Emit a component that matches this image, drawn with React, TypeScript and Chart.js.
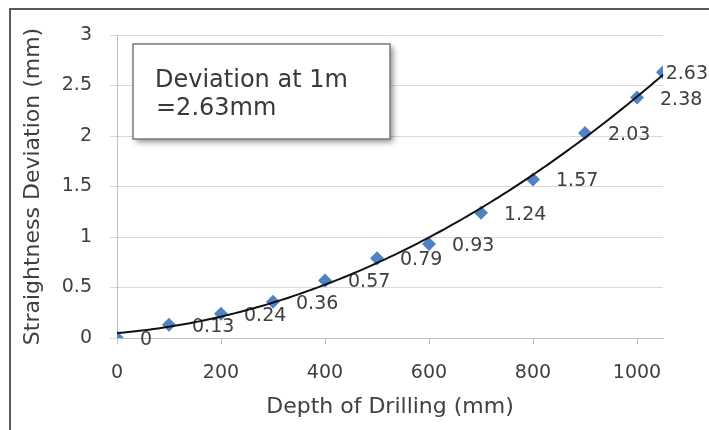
import React, { useEffect, useRef } from 'react';
import { Chart, registerables } from 'chart.js';

Chart.register(...registerables);

// ---- data ----
const depths = [0, 100, 200, 300, 400, 500, 600, 700, 800, 900, 1000, 1050];
const deviations = [0, 0.13, 0.24, 0.36, 0.57, 0.79, 0.93, 1.24, 1.57, 2.03, 2.38, 2.63];
const deviationLabels = ['0', '0.13', '0.24', '0.36', '0.57', '0.79', '0.93', '1.24', '1.57', '2.03', '2.38', '2.63'];
const xTickValues = [0, 200, 400, 600, 800, 1000];
const xTickLabels = ['0', '200', '400', '600', '800', '1000'];
const yTickValues = [0, 0.5, 1, 1.5, 2, 2.5, 3];
const yTickLabels = ['0', '0.5', '1', '1.5', '2', '2.5', '3'];
const xTitle = 'Depth of Drilling (mm)';
const yTitle = 'Straightness Deviation (mm)';
const noteLines = ['Deviation at 1m', '=2.63mm'];
const trendOrder = 2;

const FONT = "'DejaVu Sans', sans-serif";
const TEXT = '#404040';

// least-squares polynomial trendline (like Excel's polynomial trendline)
function polyFit(xs: number[], ys: number[], order: number): number[] {
  const n = order + 1;
  const A: number[][] = Array.from({ length: n }, () => new Array(n + 1).fill(0));
  xs.forEach((xRaw, k) => {
    const x = xRaw / 1000;
    for (let i = 0; i < n; i++) {
      for (let j = 0; j < n; j++) A[i][j] += Math.pow(x, i + j);
      A[i][n] += ys[k] * Math.pow(x, i);
    }
  });
  for (let c = 0; c < n; c++) {
    let p = c;
    for (let r = c + 1; r < n; r++) if (Math.abs(A[r][c]) > Math.abs(A[p][c])) p = r;
    [A[c], A[p]] = [A[p], A[c]];
    for (let r = 0; r < n; r++) {
      if (r === c) continue;
      const f = A[r][c] / A[c][c];
      for (let k = c; k <= n; k++) A[r][k] -= f * A[c][k];
    }
  }
  return A.map((row, i) => row[n] / A[i][i]);
}

export default function App() {
  const ref = useRef<HTMLCanvasElement>(null);

  useEffect(() => {
    document.body.style.margin = '0';
    const coef = polyFit(depths, deviations, trendOrder);
    const evalFit = (x: number) => coef.reduce((s, c, i) => s + c * Math.pow(x / 1000, i), 0);

    const framePlugin = {
      id: 'frame',
      afterDraw(chart: any) {
        const ctx = chart.ctx;
        ctx.save();
        ctx.strokeStyle = '#5a5a5a';
        ctx.lineWidth = 2;
        ctx.beginPath();
        ctx.moveTo(10, chart.height);
        ctx.lineTo(10, 9);
        ctx.lineTo(chart.width, 9);
        ctx.stroke();
        ctx.restore();
      },
    };

    const labelPlugin = {
      id: 'pointLabels',
      afterDatasetsDraw(chart: any) {
        const ctx = chart.ctx;
        const meta = chart.getDatasetMeta(0);
        ctx.save();
        ctx.font = `19px ${FONT}`;
        ctx.fillStyle = TEXT;
        ctx.textAlign = 'left';
        ctx.textBaseline = 'middle';
        meta.data.forEach((el: any, i: number) => {
          const txt = deviationLabels[i];
          const w = ctx.measureText(txt).width;
          let x = el.x + 23;
          if (x + w > chart.width - 1) x = chart.width - 1 - w;
          ctx.fillText(txt, x, el.y + 2);
        });
        ctx.restore();
      },
    };

    const trendPlugin = {
      id: 'trend',
      afterDatasetsDraw(chart: any) {
        const ctx = chart.ctx;
        const xs = chart.scales.x;
        const ys = chart.scales.y;
        const x0 = depths[0];
        const x1 = depths[depths.length - 1];
        ctx.save();
        ctx.strokeStyle = '#111111';
        ctx.lineWidth = 2;
        ctx.beginPath();
        const steps = 120;
        for (let s = 0; s <= steps; s++) {
          const xv = x0 + ((x1 - x0) * s) / steps;
          const px = xs.getPixelForValue(xv);
          const py = ys.getPixelForValue(evalFit(xv));
          if (s === 0) ctx.moveTo(px, py);
          else ctx.lineTo(px, py);
        }
        ctx.stroke();
        ctx.restore();
      },
    };

    const notePlugin = {
      id: 'note',
      afterDraw(chart: any) {
        const ctx = chart.ctx;
        const bx = 133, by = 44, bw = 257, bh = 95;
        ctx.save();
        ctx.shadowColor = 'rgba(0,0,0,0.45)';
        ctx.shadowBlur = 6;
        ctx.shadowOffsetX = 3;
        ctx.shadowOffsetY = 3;
        ctx.fillStyle = '#ffffff';
        ctx.fillRect(bx, by, bw, bh);
        ctx.shadowColor = 'transparent';
        ctx.strokeStyle = '#7a7a7a';
        ctx.lineWidth = 1.5;
        ctx.strokeRect(bx, by, bw, bh);
        ctx.fillStyle = '#383838';
        ctx.textAlign = 'left';
        ctx.textBaseline = 'alphabetic';
        ctx.font = `24px ${FONT}`;
        ctx.fillText(noteLines[0], 155, 87);
        ctx.fillText(noteLines[1], 156, 115);
        ctx.restore();
      },
    };

    const chart = new Chart(ref.current as HTMLCanvasElement, {
      type: 'scatter',
      data: {
        datasets: [
          {
            data: depths.map((x, i) => ({ x, y: deviations[i] })),
            pointStyle: 'rectRot',
            pointRadius: 7,
            backgroundColor: '#4e84c4',
            borderColor: '#4e84c4',
            borderWidth: 0,
          },
        ],
      },
      options: {
        animation: false,
        responsive: true,
        maintainAspectRatio: false,
        devicePixelRatio: 1,
        layout: { padding: { left: 8, top: 35, right: 46, bottom: 0 } },
        plugins: { legend: { display: false }, tooltip: { enabled: false } },
        scales: {
          x: {
            type: 'linear',
            min: 0,
            max: 1050,
            afterBuildTicks: (s: any) => {
              s.ticks = xTickValues.map((v) => ({ value: v }));
            },
            afterFit: (s: any) => {
              s.height = 92;
            },
            ticks: {
              callback: (v: any) => xTickLabels[xTickValues.indexOf(Number(v))],
              padding: 18,
              autoSkip: false,
              maxRotation: 0,
              color: TEXT,
              font: { family: FONT, size: 19 },
            },
            grid: { drawOnChartArea: false, drawTicks: true, tickLength: 6, color: '#bfbfbf' },
            border: { display: true, color: '#bfbfbf' },
            title: {
              display: true,
              text: xTitle,
              color: TEXT,
              font: { family: FONT, size: 22 },
              padding: { top: 0, bottom: 10 },
            },
          },
          y: {
            type: 'linear',
            min: 0,
            max: 3,
            afterBuildTicks: (s: any) => {
              s.ticks = yTickValues.map((v) => ({ value: v }));
            },
            afterFit: (s: any) => {
              s.width = 109;
            },
            ticks: {
              callback: (v: any) => yTickLabels[yTickValues.indexOf(Number(v))],
              padding: 18,
              autoSkip: false,
              color: TEXT,
              font: { family: FONT, size: 19 },
            },
            grid: { color: '#d9d9d9', tickLength: 7 },
            border: { display: true, color: '#bfbfbf' },
            title: {
              display: true,
              text: yTitle,
              color: TEXT,
              font: { family: FONT, size: 22 },
              padding: { top: 12, bottom: 0 },
            },
          },
        },
      } as any,
      plugins: [labelPlugin, trendPlugin, notePlugin, framePlugin],
    });

    return () => chart.destroy();
  }, []);

  return (
    <div style={{ position: 'relative', width: 709, height: 430, background: '#ffffff' }}>
      <canvas ref={ref} />
    </div>
  );
}
